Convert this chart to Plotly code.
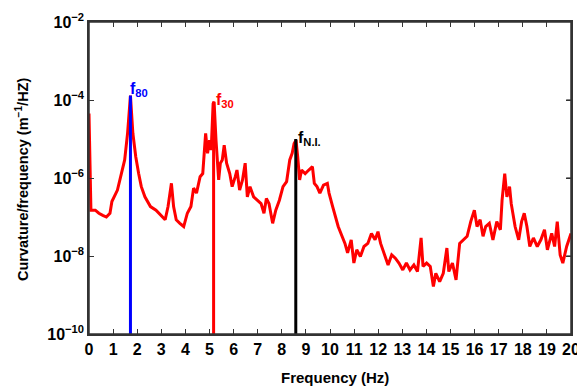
import plotly.graph_objects as go

# Red spectrum curve (frequency in Hz, curvature/frequency in m^-1/Hz)
freq = [0.0, 0.08, 0.26, 0.41, 0.57, 0.72, 0.87, 0.95, 1.18, 1.33, 1.48, 1.6, 1.72, 1.82, 1.94,
        2.06, 2.17, 2.32, 2.55, 2.78, 3.01, 3.16, 3.28, 3.42, 3.51, 3.62, 3.77, 3.93, 4.08,
        4.23, 4.34, 4.46, 4.61, 4.72, 4.84, 4.92, 5.0, 5.07, 5.15, 5.19, 5.27, 5.38, 5.45,
        5.53, 5.61, 5.71, 5.84, 5.94, 6.07, 6.14, 6.25, 6.37, 6.48, 6.57, 6.68, 6.83, 6.98,
        7.14, 7.26, 7.36, 7.47, 7.62, 7.75, 7.9, 8.05, 8.2, 8.33, 8.43, 8.51, 8.59, 8.66,
        8.74, 8.82, 8.97, 9.12, 9.27, 9.35, 9.46, 9.58, 9.73, 9.89, 9.96, 10.11, 10.22,
        10.34, 10.5, 10.62, 10.73, 10.88, 10.99, 11.11, 11.26, 11.41, 11.57, 11.72, 11.87,
        11.99, 12.1, 12.25, 12.41, 12.56, 12.71, 12.86, 13.02, 13.17, 13.32, 13.48, 13.63,
        13.78, 13.86, 14.01, 14.16, 14.29, 14.39, 14.55, 14.7, 14.85, 14.93, 15.08, 15.23,
        15.38, 15.54, 15.69, 15.84, 15.99, 16.1, 16.23, 16.35, 16.46, 16.61, 16.76, 16.92,
        17.07, 17.14, 17.25, 17.34, 17.45, 17.52, 17.68, 17.83, 17.95, 18.06, 18.17, 18.29,
        18.44, 18.6, 18.75, 18.9, 19.02, 19.2, 19.32, 19.43, 19.55, 19.66, 19.82, 20.0]
curvature = [4.5e-5, 1.5e-7, 1.5e-7, 1.25e-7, 1.1e-7, 1.0e-7, 1.25e-7, 2.5e-7, 4.9e-7, 1.3e-6,
             2.9e-6, 1.4e-5, 1.3e-4, 1.4e-5, 3.5e-6,
             1.3e-6, 6.0e-7, 3.3e-7, 1.85e-7, 1.5e-7, 1.1e-7, 8.5e-8, 1.85e-7, 7.3e-7, 1.85e-7,
             8.5e-8, 6.9e-8, 5.7e-8, 1.25e-7,
             1.85e-7, 5.5e-7, 4.1e-7, 1.08e-6, 1.3e-6, 1.4e-5, 4.3e-6, 9.3e-6, 5.2e-6, 8.1e-5,
             9.0e-5, 9.3e-6, 8.9e-7, 2.4e-6,
             2.9e-6, 6.9e-6, 2.4e-6, 1.3e-6, 6.0e-7, 1.08e-6, 1.6e-6, 4.9e-7, 8.9e-7, 2.4e-6,
             3.3e-7, 6.0e-7, 3.3e-7, 2.7e-7,
             2.2e-7, 1.25e-7, 3.0e-7, 2.2e-7, 6.9e-8, 1.5e-7, 2.7e-7, 6.0e-7, 8.1e-7, 2.9e-6,
             4.3e-6, 7.7e-6, 9.3e-6, 3.5e-6,
             8.9e-7, 1.6e-6, 1.3e-6, 1.6e-6, 1.95e-6, 7.3e-7, 6.0e-7, 4.1e-7, 6.6e-7, 7.3e-7,
             4.1e-7, 1.85e-7, 1.1e-7,
             5.7e-8, 3.2e-8, 2.1e-8, 1.2e-8, 2.6e-8, 6.6e-9, 1.44e-8, 9.7e-9, 1.75e-8, 2.1e-8,
             3.8e-8, 2.6e-8,
             4.2e-8, 2.1e-8, 1.2e-8, 5.9e-9, 1.07e-8, 8.8e-9, 6.6e-9, 4.4e-9, 6.6e-9, 4.4e-9,
             5.9e-9, 4.0e-9,
             2.9e-8, 5.4e-9, 6.6e-9, 5.4e-9, 1.66e-9, 3.6e-9, 2.2e-9, 3.6e-9, 1.6e-8, 4.0e-9,
             6.6e-9, 2.45e-9,
             2.1e-8, 2.6e-8, 3.2e-8, 7.6e-8, 1.5e-7, 5.7e-8, 8.5e-8, 3.2e-8, 5.7e-8, 6.9e-8,
             2.6e-8, 7.6e-8,
             4.7e-8, 2.7e-7, 1.3e-6, 3.3e-7, 6.0e-7, 2.2e-7, 5.7e-8, 2.6e-8, 7.6e-8, 1.25e-7,
             5.7e-8, 1.75e-8,
             2.9e-8, 1.75e-8, 2.6e-8, 4.7e-8, 1.44e-8, 3.8e-8, 1.75e-8, 7.6e-8, 1.07e-8, 6.6e-9,
             1.75e-8, 3.8e-8]

# Identified modal frequencies (stem lines)
mode_labels = ["80", "30", "N.I."]
mode_freq = [1.72, 5.17, 8.58]
mode_peak = [1.3e-4, 9.0e-5, 1.0e-5]
mode_colors = ["#0000ff", "#ff0000", "#000000"]
y_floor = 1e-10

ytick_vals = [1e-10, 1e-8, 1e-6, 1e-4, 1e-2]
ytick_text = ["10<sup>\u221210</sup>", "10<sup>\u22128</sup>", "10<sup>\u22126</sup>",
              "10<sup>\u22124</sup>", "10<sup>\u22122</sup>"]
xtick_vals = list(range(0, 21))
x_title = "Frequency (Hz)"
y_title = "Curvature/frequency (m<sup>\u22121</sup>/HZ)"

FONT = "Liberation Sans, Arial, sans-serif"
AXC = "#333333"

fig = go.Figure()
fig.add_trace(go.Scatter(x=freq, y=curvature, mode="lines",
                         line=dict(color="#ff0000", width=3), showlegend=False))
for f, p, c in zip(mode_freq, mode_peak, mode_colors):
    fig.add_trace(go.Scatter(x=[f, f], y=[y_floor, p], mode="lines",
                             line=dict(color=c, width=3), showlegend=False))

# label positions (log10 units for y)
label_pos = [(1.6, -4.02), (5.18, -4.3), (8.6, -5.28)]
for lab, (lx, ly), c in zip(mode_labels, label_pos, mode_colors):
    fig.add_annotation(x=lx, y=ly, xref="x", yref="y", xanchor="left", yanchor="bottom",
                       text=f"<b>f<sub>{lab}</sub></b>", showarrow=False,
                       font=dict(family=FONT, size=16, color=c))

tickfont = dict(family=FONT, size=16, color="#000000", weight="bold")
axis_common = dict(showline=True, linecolor=AXC, linewidth=1.5, mirror="allticks",
                   ticks="inside", ticklen=5, tickwidth=1.2, tickcolor=AXC,
                   showgrid=False, zeroline=False, automargin=False, tickfont=tickfont)

# last x label sits on the page edge; drawn as an annotation so it is not dropped
xtick_text = [str(v) for v in xtick_vals[:-1]] + [""]
fig.update_xaxes(range=[0, 20], tickvals=xtick_vals, ticktext=xtick_text, **axis_common)
fig.update_yaxes(type="log", range=[-10, -2], tickvals=ytick_vals, ticktext=ytick_text,
                 **axis_common)
fig.add_annotation(x=xtick_vals[-1], y=0, xref="x", yref="paper", yshift=-15,
                   text=str(xtick_vals[-1]), showarrow=False, xanchor="center", yanchor="middle",
                   font=tickfont)

# explicit frame and right-side ticks
fig.add_shape(type="rect", xref="paper", yref="paper", x0=0, x1=1, y0=0, y1=1,
              line=dict(color=AXC, width=1.5), layer="above")
for tv in ytick_vals[1:-1]:
    fig.add_shape(type="line", xref="paper", yref="y", x0=1, x1=0.99, y0=tv, y1=tv,
                  line=dict(color=AXC, width=1.2))

# plot area spans page pixels x 89..571, y 22..334
PW, PH = 482, 312
fig.add_annotation(text=f"<b>{x_title}</b>", showarrow=False,
                   xref="paper", yref="paper", x=(335 - 89) / PW, y=(334 - 377) / PH,
                   xanchor="center", yanchor="middle",
                   font=dict(family=FONT, size=15, color="#000"))
fig.add_annotation(text=f"<b>{y_title}</b>", textangle=-90, showarrow=False,
                   xref="paper", yref="paper", x=(22 - 89) / PW, y=(334 - 180) / PH,
                   xanchor="center", yanchor="middle",
                   font=dict(family=FONT, size=14.5, color="#000"))

fig.update_layout(width=577, height=387, margin=dict(l=89, r=6, t=22, b=53),
                  paper_bgcolor="white", plot_bgcolor="white",
                  font=dict(family=FONT))

fig.write_html("out.html", config={"displayModeBar": False},
               post_script="document.body.style.margin='0';document.body.style.overflow='hidden';")
